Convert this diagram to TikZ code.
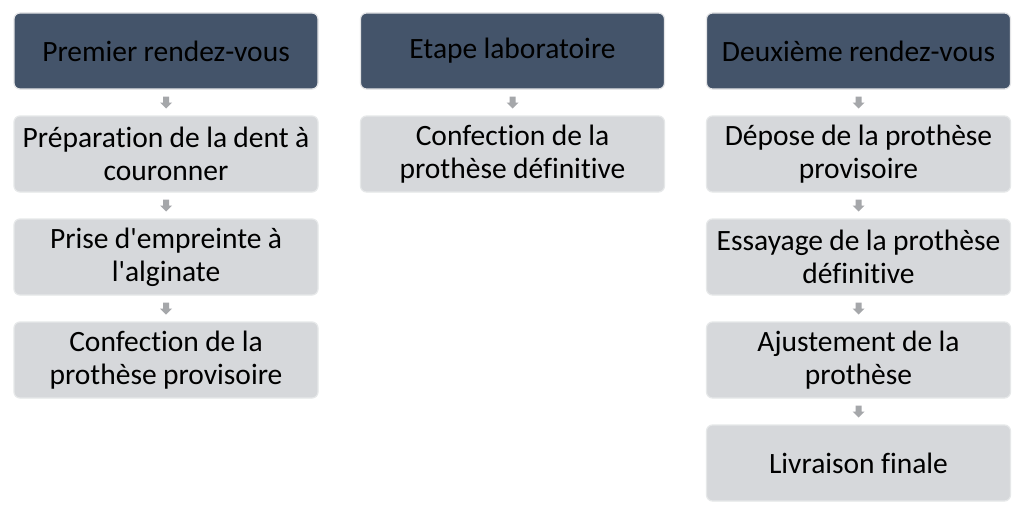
\documentclass[tikz,border=0pt]{standalone}
\usepackage{fontspec}
\setmainfont{Carlito}[Ligatures={TeXOff,NoCommon}, WordSpace=0.95]
\definecolor{hdr}{HTML}{44546A}
\definecolor{stepfill}{HTML}{D6D8DB}
\definecolor{edgegray}{HTML}{E4E5E7}
\definecolor{arrgray}{HTML}{A5A7AA}
\newcommand{\nohyphs}{\hyphenpenalty=10000\relax\exhyphenpenalty=10000\relax}
\begin{document}
\begin{tikzpicture}[x=1pt,y=-1pt,
  base/.style={rectangle, rounded corners=6pt, minimum width=304pt, minimum height=76pt,
    align=center, inner sep=1pt,
    font=\fontsize{29.5}{33}\selectfont\nohyphs, text=black, line width=1.2pt},
  head/.style={base, fill=hdr, draw=edgegray},
  stepbox/.style={base, fill=stepfill, draw=stepfill!60!white}
]
\useasboundingbox (0,0) rectangle (1024,511);
\fill[white] (0,0) rectangle (1024,511);
% column 1
\node[head] (h1) at (166,51) {Premier rendez-vous};
\node[stepbox] (a1) at (166,154) {Préparation de la dent à\\couronner};
\node[stepbox] (a2) at (166,257) {Prise d'empreinte à\\l'alginate};
\node[stepbox] (a3) at (166,360) {Confection de la\\prothèse provisoire};
% column 2
\node[head] (h2) at (512.5,51) {Etape laboratoire};
\node[stepbox] (b1) at (512.5,154) {Confection de la\\prothèse définitive};
% column 3
\node[head] (h3) at (858.5,51) {Deuxième rendez-vous};
\node[stepbox] (c1) at (858.5,154) {Dépose de la prothèse\\provisoire};
\node[stepbox] (c2) at (858.5,257) {Essayage de la prothèse\\définitive};
\node[stepbox] (c3) at (858.5,360) {Ajustement de la\\prothèse};
\node[stepbox] (c4) at (858.5,463) {Livraison finale};
% block arrows
\newcommand{\blockarrow}[2]{%
  \path (#1.south) -- (#2.north) coordinate[pos=0.5] (m);
  \fill[arrgray] ([xshift=-3pt,yshift=6pt]m) -- ([xshift=-3pt,yshift=0pt]m) -- ([xshift=-6pt,yshift=0pt]m)
    -- ([yshift=-6pt]m) -- ([xshift=6pt,yshift=0pt]m) -- ([xshift=3pt,yshift=0pt]m) -- ([xshift=3pt,yshift=6pt]m) -- cycle;}
\blockarrow{h1}{a1}
\blockarrow{a1}{a2}
\blockarrow{a2}{a3}
\blockarrow{h2}{b1}
\blockarrow{h3}{c1}
\blockarrow{c1}{c2}
\blockarrow{c2}{c3}
\blockarrow{c3}{c4}
\end{tikzpicture}
\end{document}
